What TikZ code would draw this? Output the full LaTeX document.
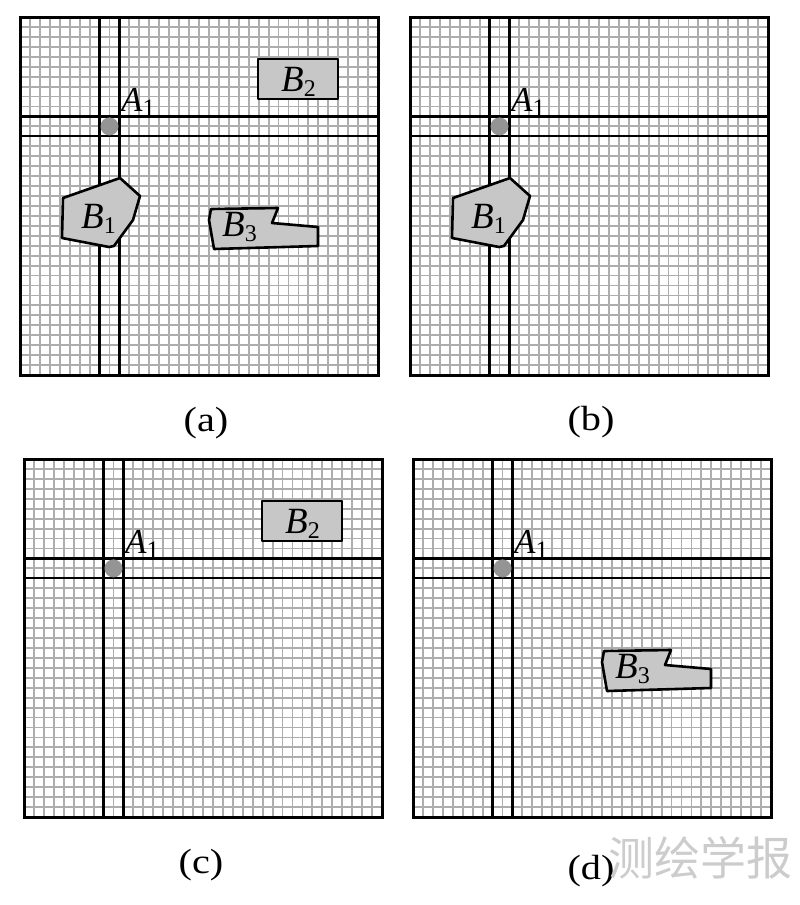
\documentclass[tikz,border=0pt]{standalone}
\usepackage{fontspec}
\setmainfont{Liberation Serif}
\newfontfamily\cjk{Noto Sans CJK SC}
\newcommand{\lbl}[3]{\textit{#1}\raisebox{-5pt}{\fontsize{#3}{#3}\selectfont #2}}
\tikzset{
  gridline/.style={draw=black!32, line width=1.8pt},
  frameline/.style={draw=black, line width=3pt},
  axisline/.style={draw=black, line width=2.3pt},
  objshape/.style={draw=black, line width=2.6pt, fill=black!22, line join=round},
  dotA/.style={circle, fill=black!42, inner sep=0pt, minimum size=18pt},
  alab/.style={font=\fontsize{35}{35}\selectfont, inner sep=0pt},
  blab/.style={font=\fontsize{37}{37}\selectfont, inner sep=0pt},
  captext/.style={font=\fontsize{35}{35}\selectfont, inner sep=0pt},
  wmark/.style={font=\cjk\fontsize{46}{46}\selectfont, text=black!20, inner sep=0pt},
}
\newcommand{\basepanel}{%
  \foreach \i in {1,...,35}{%
    \pgfmathsetmacro{\gp}{\i*358/36}
    \draw[gridline] (\gp,0) -- (\gp,358);
    \draw[gridline] (0,\gp) -- (358,\gp);
  }
  \draw[axisline] (79.6,0) -- (79.6,358);
  \draw[axisline] (99.4,0) -- (99.4,358);
  \draw[axisline] (0,99.4) -- (358,99.4);
  \draw[axisline] (0,119.3) -- (358,119.3);
  \node[dotA] (A) at (89.5,109.4) {};
  \node[alab, anchor=base west] (Alab) at (101,94) {\lbl{A}{1}{25}};
  \draw[frameline] (0,0) rectangle (358,358);
}
\newcommand{\shapeBone}{%
  \draw[objshape] (43,181) -- (100,161) -- (120,179) -- (113,203) -- (94,229) -- (89,230) -- (42,221) -- cycle;
  \node[blab, anchor=base west] (B1) at (61,211) {\lbl{B}{1}{24}};
}
\newcommand{\shapeBtwo}{%
  \draw[objshape] (238,42) rectangle (318,82);
  \node[blab, anchor=base west] (B2) at (261,74) {\lbl{B}{2}{24}};
}
\newcommand{\shapeBthree}{%
  \draw[objshape] (191,192) -- (258,191) -- (252,206) -- (298,210) -- (298,229) -- (194,232) -- (189,203) -- cycle;
  \node[blab, anchor=base west] (B3) at (202,219) {\lbl{B}{3}{24}};
}
\begin{document}
\begin{tikzpicture}[x=1pt,y=-1pt]
  \useasboundingbox (0,0) rectangle (800,905);
  \fill[white] (0,0) rectangle (800,905);
  % (a)
  \begin{scope}[shift={(20,17)}, name prefix=a-]
    \basepanel
    \shapeBone
    \shapeBtwo
    \shapeBthree
  \end{scope}
  % (b)
  \begin{scope}[shift={(410,17)}, name prefix=b-]
    \basepanel
    \shapeBone
  \end{scope}
  % (c)
  \begin{scope}[shift={(24,459)}, name prefix=c-]
    \basepanel
    \shapeBtwo
  \end{scope}
  % (d)
  \begin{scope}[shift={(413,459)}, name prefix=d-]
    \basepanel
    \shapeBthree
  \end{scope}
  \node[captext, anchor=base] (capa) at (206,431) {\scalebox{1.15}[1]{(a)}};
  \node[captext, anchor=base] (capb) at (591,430) {\scalebox{1.15}[1]{(b)}};
  \node[captext, anchor=base] (capc) at (201,873) {\scalebox{1.15}[1]{(c)}};
  \node[captext, anchor=base] (capd) at (591,879) {\scalebox{1.15}[1]{(d)}};
  \node[wmark] (wm) at (700,858) {测绘学报};
\end{tikzpicture}
\end{document}
